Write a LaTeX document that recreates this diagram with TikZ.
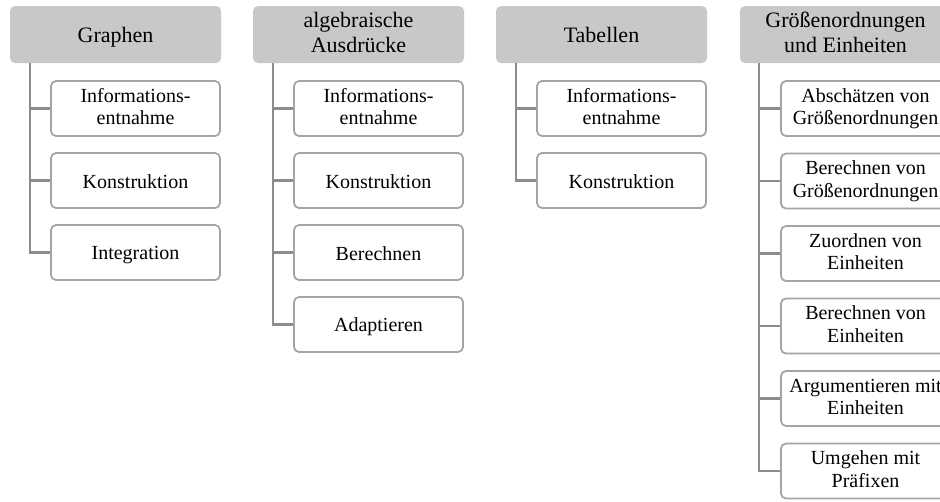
\documentclass[tikz,border=0pt]{standalone}
\usepackage{fontspec}
\setmainfont{Liberation Serif}
\definecolor{headgray}{RGB}{200,200,200}
\definecolor{boxgray}{RGB}{165,165,165}
\definecolor{linegray}{RGB}{140,140,140}
\tikzset{
  head/.style={fill=headgray, rounded corners=5pt, minimum width=211pt, minimum height=57pt, inner sep=0pt, align=center, font=\fontsize{22}{25}\selectfont, execute at begin node={\rule{0pt}{20pt}}, execute at end node={\rule[-5pt]{0pt}{0pt}}},
  leaf/.style={draw=boxgray, line width=1.8pt, fill=white, rounded corners=5pt, minimum width=169pt, minimum height=55pt, inner sep=0pt, align=center, font=\fontsize{20}{22.5}\selectfont, execute at begin node={\rule{0pt}{18.75pt}}, execute at end node={\rule[-3.75pt]{0pt}{0pt}}},
  conn/.style={draw=linegray, line width=2.4pt}
}
\begin{document}
\begin{tikzpicture}[x=1pt,y=-1pt]
\useasboundingbox (0,0) rectangle (940,501);
\begin{scope}
\clip (0,0) rectangle (940,501);
% headers
\node[head] (h1) at (115.5,34.5) {Graphen};
\node[head] (h2) at (358.5,34.5) {algebraische\\Ausdrücke};
\node[head] (h3) at (601.5,34.5) {Tabellen};
\node[head] (h4) at (845.5,34.5) {Größenordnungen\\und Einheiten};
% trunk tops
\coordinate (t1) at ([xshift=20pt]h1.south west);
\coordinate (t2) at ([xshift=20pt]h2.south west);
\coordinate (t3) at ([xshift=20pt]h3.south west);
\coordinate (t4) at ([xshift=19pt]h4.south west);
% column 1
\node[leaf] (a1) at (135.5,108.5) {Informations-\\entnahme};
\node[leaf] (a2) at (135.5,180.5) {Konstruktion};
\node[leaf] (a3) at (135.5,252.5) {Integration};
% column 2
\node[leaf] (b1) at (378.5,108.5) {Informations-\\entnahme};
\node[leaf] (b2) at (378.5,180.5) {Konstruktion};
\node[leaf] (b3) at (378.5,252.5) {Berechnen};
\node[leaf] (b4) at (378.5,324.5) {Adaptieren};
% column 3
\node[leaf] (c1) at (621.5,108.5) {Informations-\\entnahme};
\node[leaf] (c2) at (621.5,180.5) {Konstruktion};
% column 4
\node[leaf] (d1) at (865.5,108.5) {Abschätzen von\\Größenordnungen};
\node[leaf] (d2) at (865.5,181) {Berechnen von\\Größenordnungen};
\node[leaf] (d3) at (865.5,253.5) {Zuordnen von\\Einheiten};
\node[leaf] (d4) at (865.5,326) {Berechnen von\\Einheiten};
\node[leaf] (d5) at (865.5,398.5) {Argumentieren mit\\Einheiten};
\node[leaf] (d6) at (865.5,471) {Umgehen mit\\Präfixen};
% connectors
\foreach \n in {a1,a2,a3} \draw[conn] (t1) |- (\n.west);
\foreach \n in {b1,b2,b3,b4} \draw[conn] (t2) |- (\n.west);
\foreach \n in {c1,c2} \draw[conn] (t3) |- (\n.west);
\foreach \n in {d1,d2,d3,d4,d5,d6} \draw[conn] (t4) |- (\n.west);
\end{scope}
\end{tikzpicture}
\end{document}
